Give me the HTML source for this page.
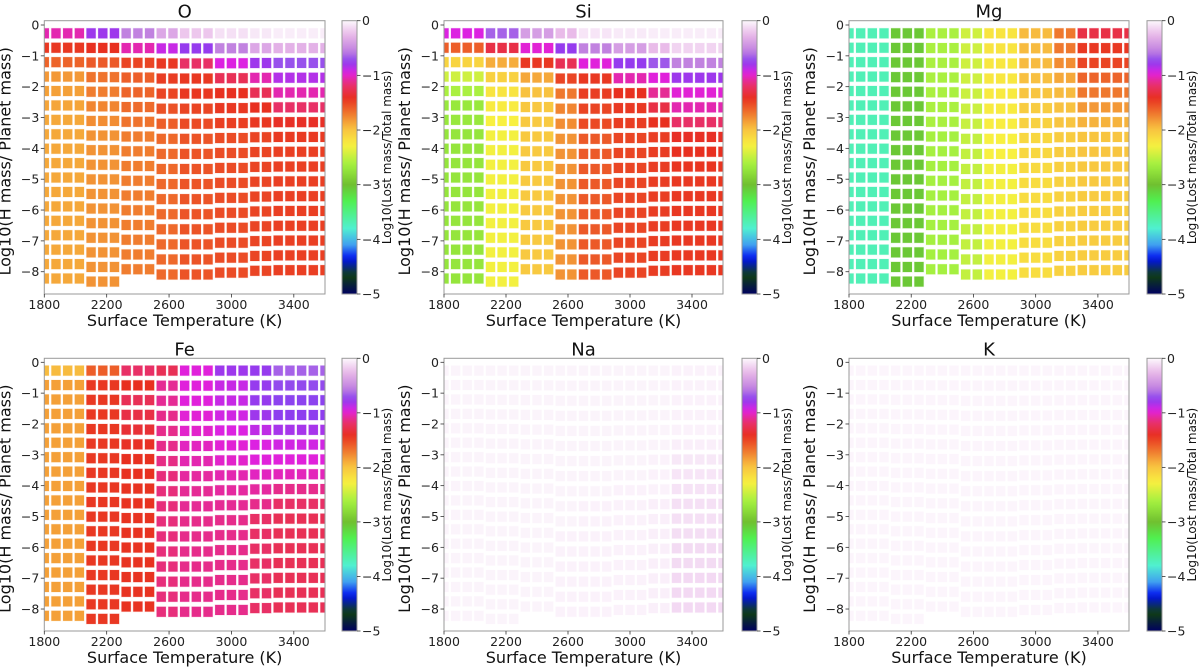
<!DOCTYPE html>
<html><head><meta charset="utf-8"><style>
html,body{margin:0;padding:0;background:#fff;}
svg{display:block;font-family:"DejaVu Sans","Liberation Sans",sans-serif;}
</style></head><body>
<svg id="fig" width="1200" height="669" viewBox="0 0 1200 669" xmlns="http://www.w3.org/2000/svg"></svg>
<script>
// ---- data ----
const temps = [1800,1875,1950,2025,2100,2175,2250,2325,2400,2475,2550,2625,2700,2775,2850,2925,3000,3075,3150,3225,3300,3375,3450,3525,3600];
const groupOfCol = [0,0,0,0,1,1,1,2,2,2,3,3,4,4,4,5,5,5,6,6,7,7,7,7,7];
const groupRows = [18,18,17,17,17,17,17,17];
const groupTop = [-0.27,-0.27,-0.27,-0.27,-0.27,-0.27,-0.27,-0.27];
const groupBottom = [-8.22,-8.32,-7.92,-8.09,-8.09,-8.03,-7.97,-7.95];
const xTicks = [1800,2200,2600,3000,3400];
const yTicks = [0,-1,-2,-3,-4,-5,-6,-7,-8];
const cbTicks = [0,-1,-2,-3,-4,-5];

const valuesO = [
[-1.05,-0.8,-0.55,-0.35,-0.2,-0.1,-0.07,-0.05],
[-1.45,-1.42,-1.05,-0.9,-0.78,-0.55,-0.35,-0.3],
[-1.62,-1.58,-1.5,-1.45,-1.2,-0.95,-0.8,-0.7],
[-1.82,-1.68,-1.6,-1.47,-1.45,-1.25,-1.05,-0.85],
[-1.85,-1.72,-1.62,-1.5,-1.45,-1.42,-1.25,-1.05],
[-1.87,-1.75,-1.65,-1.55,-1.5,-1.45,-1.42,-1.2],
[-1.88,-1.78,-1.68,-1.6,-1.52,-1.48,-1.45,-1.4],
[-1.88,-1.8,-1.72,-1.64,-1.56,-1.53,-1.5,-1.46],
[-1.88,-1.8,-1.72,-1.64,-1.56,-1.53,-1.5,-1.48],
[-1.88,-1.8,-1.72,-1.64,-1.56,-1.53,-1.5,-1.48],
[-1.88,-1.8,-1.72,-1.64,-1.56,-1.53,-1.5,-1.48],
[-1.88,-1.8,-1.72,-1.64,-1.56,-1.53,-1.5,-1.48],
[-1.88,-1.8,-1.72,-1.64,-1.56,-1.53,-1.5,-1.48],
[-1.88,-1.8,-1.72,-1.64,-1.56,-1.53,-1.5,-1.48],
[-1.88,-1.8,-1.72,-1.64,-1.56,-1.53,-1.5,-1.48],
[-1.88,-1.8,-1.72,-1.64,-1.56,-1.53,-1.5,-1.48],
[-1.88,-1.8,-1.72,-1.64,-1.56,-1.53,-1.5,-1.48],
[-1.88,-1.8,null,null,null,null,null,null]];
const valuesSi = [
[-0.95,-0.65,-0.4,-0.25,-0.08,-0.06,-0.05,-0.05],
[-1.6,-1.3,-0.98,-0.78,-0.55,-0.4,-0.25,-0.15],
[-2.1,-1.9,-1.45,-1.25,-0.97,-0.78,-0.68,-0.55],
[-2.45,-2.08,-1.88,-1.5,-1.45,-1.05,-0.97,-0.8],
[-2.6,-2.2,-1.98,-1.7,-1.47,-1.42,-1.1,-0.98],
[-2.7,-2.25,-2.02,-1.75,-1.5,-1.45,-1.3,-1.05],
[-2.7,-2.28,-2.03,-1.78,-1.52,-1.47,-1.42,-1.2],
[-2.72,-2.3,-2.03,-1.8,-1.58,-1.5,-1.47,-1.4],
[-2.72,-2.3,-2.03,-1.8,-1.58,-1.5,-1.47,-1.42],
[-2.72,-2.3,-2.03,-1.8,-1.58,-1.5,-1.47,-1.44],
[-2.72,-2.3,-2.03,-1.8,-1.58,-1.5,-1.47,-1.45],
[-2.72,-2.3,-2.03,-1.8,-1.58,-1.5,-1.47,-1.45],
[-2.72,-2.3,-2.03,-1.8,-1.58,-1.5,-1.47,-1.45],
[-2.72,-2.3,-2.03,-1.8,-1.58,-1.5,-1.47,-1.45],
[-2.72,-2.3,-2.03,-1.8,-1.58,-1.5,-1.47,-1.45],
[-2.72,-2.3,-2.03,-1.8,-1.58,-1.5,-1.47,-1.45],
[-2.72,-2.3,-2.03,-1.8,-1.58,-1.5,-1.47,-1.45],
[-2.72,-2.3,null,null,null,null,null,null]];
const valuesMg = [
[-3.7,-3.05,-2.6,-2.45,-2.2,-1.95,-1.7,-1.3],
[-3.7,-3.05,-2.6,-2.45,-2.2,-1.95,-1.7,-1.45],
[-3.7,-3.05,-2.6,-2.45,-2.22,-1.95,-1.78,-1.5],
[-3.7,-3.05,-2.6,-2.45,-2.22,-1.97,-1.88,-1.62],
[-3.7,-3.05,-2.6,-2.47,-2.24,-2.0,-1.95,-1.7],
[-3.7,-3.05,-2.6,-2.47,-2.25,-2.05,-1.98,-1.82],
[-3.7,-3.05,-2.6,-2.48,-2.26,-2.08,-2.0,-1.92],
[-3.7,-3.05,-2.62,-2.5,-2.28,-2.12,-2.05,-2.0],
[-3.7,-3.05,-2.62,-2.5,-2.28,-2.12,-2.05,-2.0],
[-3.7,-3.05,-2.62,-2.5,-2.3,-2.14,-2.07,-2.02],
[-3.7,-3.05,-2.62,-2.5,-2.3,-2.15,-2.08,-2.03],
[-3.7,-3.05,-2.62,-2.5,-2.3,-2.15,-2.08,-2.04],
[-3.7,-3.05,-2.62,-2.5,-2.3,-2.16,-2.08,-2.05],
[-3.7,-3.05,-2.62,-2.5,-2.3,-2.16,-2.08,-2.05],
[-3.7,-3.05,-2.62,-2.5,-2.3,-2.16,-2.08,-2.05],
[-3.7,-3.05,-2.62,-2.5,-2.3,-2.16,-2.08,-2.05],
[-3.7,-3.05,-2.62,-2.5,-2.3,-2.16,-2.08,-2.05],
[-3.7,-3.05,null,null,null,null,null,null]];
const valuesFe = [
[-1.95,-1.6,-1.2,-1.25,-0.97,-0.8,-0.78,-0.65],
[-1.85,-1.45,-1.42,-1.1,-0.97,-0.9,-0.78,-0.72],
[-1.85,-1.45,-1.25,-1.1,-0.97,-0.9,-0.78,-0.74],
[-1.85,-1.45,-1.3,-1.12,-0.98,-0.92,-0.8,-0.76],
[-1.85,-1.45,-1.35,-1.12,-1.0,-0.95,-0.88,-0.82],
[-1.85,-1.45,-1.4,-1.12,-1.02,-0.98,-0.95,-0.92],
[-1.85,-1.45,-1.42,-1.13,-1.05,-1.0,-0.97,-0.97],
[-1.85,-1.45,-1.42,-1.15,-1.08,-1.05,-1.02,-1.03],
[-1.85,-1.45,-1.43,-1.15,-1.1,-1.08,-1.08,-1.12],
[-1.85,-1.45,-1.43,-1.15,-1.1,-1.1,-1.12,-1.2],
[-1.85,-1.45,-1.43,-1.15,-1.12,-1.12,-1.2,-1.25],
[-1.85,-1.45,-1.43,-1.15,-1.12,-1.12,-1.2,-1.25],
[-1.85,-1.45,-1.43,-1.15,-1.12,-1.12,-1.2,-1.25],
[-1.85,-1.45,-1.43,-1.15,-1.12,-1.12,-1.2,-1.25],
[-1.85,-1.45,-1.43,-1.15,-1.12,-1.12,-1.2,-1.25],
[-1.85,-1.45,-1.43,-1.15,-1.12,-1.12,-1.2,-1.25],
[-1.85,-1.45,-1.43,-1.15,-1.12,-1.12,-1.2,-1.25],
[-1.85,-1.45,null,null,null,null,null,null]];
const valuesNa = [
[-0.02,-0.02,-0.02,-0.02,-0.02,-0.02,-0.02,-0.03],
[-0.02,-0.02,-0.02,-0.02,-0.02,-0.02,-0.02,-0.03],
[-0.02,-0.02,-0.02,-0.02,-0.02,-0.02,-0.02,-0.03],
[-0.02,-0.02,-0.02,-0.02,-0.02,-0.02,-0.02,-0.03],
[-0.02,-0.02,-0.02,-0.02,-0.02,-0.02,-0.02,-0.03],
[-0.02,-0.02,-0.02,-0.02,-0.02,-0.02,-0.02,-0.04],
[-0.02,-0.02,-0.02,-0.02,-0.02,-0.02,-0.03,-0.07],
[-0.02,-0.02,-0.02,-0.02,-0.02,-0.02,-0.03,-0.08],
[-0.02,-0.02,-0.02,-0.02,-0.02,-0.03,-0.03,-0.09],
[-0.02,-0.02,-0.02,-0.02,-0.03,-0.03,-0.04,-0.1],
[-0.02,-0.02,-0.02,-0.02,-0.03,-0.03,-0.04,-0.1],
[-0.02,-0.02,-0.02,-0.03,-0.03,-0.03,-0.04,-0.11],
[-0.02,-0.02,-0.02,-0.03,-0.03,-0.03,-0.04,-0.12],
[-0.02,-0.02,-0.02,-0.03,-0.03,-0.03,-0.04,-0.12],
[-0.02,-0.02,-0.02,-0.03,-0.03,-0.03,-0.04,-0.13],
[-0.02,-0.02,-0.02,-0.03,-0.03,-0.03,-0.04,-0.13],
[-0.02,-0.02,-0.02,-0.03,-0.03,-0.03,-0.04,-0.13],
[-0.02,-0.02,null,null,null,null,null,null]];
const valuesK = [
[-0.015,-0.015,-0.015,-0.015,-0.015,-0.015,-0.015,-0.015],
[-0.015,-0.015,-0.015,-0.015,-0.015,-0.015,-0.015,-0.015],
[-0.015,-0.015,-0.015,-0.015,-0.015,-0.015,-0.015,-0.015],
[-0.015,-0.015,-0.015,-0.015,-0.015,-0.015,-0.015,-0.015],
[-0.015,-0.015,-0.015,-0.015,-0.015,-0.015,-0.015,-0.015],
[-0.015,-0.015,-0.015,-0.015,-0.015,-0.015,-0.015,-0.015],
[-0.015,-0.015,-0.015,-0.015,-0.015,-0.015,-0.015,-0.015],
[-0.015,-0.015,-0.015,-0.015,-0.015,-0.015,-0.015,-0.015],
[-0.015,-0.015,-0.015,-0.015,-0.015,-0.015,-0.015,-0.015],
[-0.015,-0.015,-0.015,-0.015,-0.015,-0.015,-0.015,-0.015],
[-0.015,-0.015,-0.015,-0.015,-0.015,-0.015,-0.015,-0.015],
[-0.015,-0.015,-0.015,-0.015,-0.015,-0.015,-0.015,-0.015],
[-0.015,-0.015,-0.015,-0.015,-0.015,-0.015,-0.015,-0.015],
[-0.015,-0.015,-0.015,-0.015,-0.015,-0.015,-0.015,-0.015],
[-0.015,-0.015,-0.015,-0.015,-0.015,-0.015,-0.015,-0.015],
[-0.015,-0.015,-0.015,-0.015,-0.015,-0.015,-0.015,-0.015],
[-0.015,-0.015,-0.015,-0.015,-0.015,-0.015,-0.015,-0.015],
[-0.015,-0.015,null,null,null,null,null,null]];

// ---- colormap (value -> color) ----
const cmap = [[0,'#fdf9fd'],[-0.26,'#e8b8e8'],[-0.56,'#c080e0'],[-0.75,'#8a40f0'],[-0.96,'#e020e0'],[-1.17,'#e83070'],[-1.42,'#e83020'],[-1.73,'#f08030'],[-1.97,'#f8c040'],[-2.28,'#f8f040'],[-2.64,'#a0f040'],[-3.0,'#70c030'],[-3.3,'#50f050'],[-3.8,'#50f0d0'],[-4.1,'#40a0f0'],[-4.35,'#0010f0'],[-4.66,'#104010'],[-5,'#000060']];
function hex2rgb(h){return [1,3,5].map(i=>parseInt(h.substr(i,2),16));}
function colorOf(v){
  if(v>=cmap[0][0]) return cmap[0][1];
  for(let i=1;i<cmap.length;i++){
    if(v>=cmap[i][0]){const a=cmap[i-1],b=cmap[i];const t=(a[0]-v)/(a[0]-b[0]);
      const ca=hex2rgb(a[1]),cb=hex2rgb(b[1]);
      return 'rgb('+ca.map((c,k)=>Math.round(c+(cb[k]-c)*t)).join(',')+')';}
  }
  return cmap[cmap.length-1][1];
}

const NS='http://www.w3.org/2000/svg';
const svg=document.getElementById('fig');
function mk(tag,attrs,parent){const e=document.createElementNS(NS,tag);for(const k in attrs)e.setAttribute(k,attrs[k]);(parent||svg).appendChild(e);return e;}

const defs=mk('defs',{});
const grad=mk('linearGradient',{id:'cbgrad',x1:0,y1:0,x2:0,y2:1},defs);
for(let i=0;i<=50;i++){const v=-5*i/50;mk('stop',{offset:(i/50),'stop-color':colorOf(v)},grad);}

const panels=[
 {name:'O',vals:valuesO,x0:44.3,x1:325,y0:20.7,y1:294,zero:25,cbx:342},
 {name:'Si',vals:valuesSi,x0:444,x1:723,y0:20.7,y1:294,zero:25,cbx:742},
 {name:'Mg',vals:valuesMg,x0:849,x1:1129,y0:20.7,y1:294,zero:25,cbx:1147},
 {name:'Fe',vals:valuesFe,x0:44.3,x1:325,y0:358.3,y1:631,zero:362.3,cbx:342},
 {name:'Na',vals:valuesNa,x0:444,x1:723,y0:358.3,y1:631,zero:362.3,cbx:742},
 {name:'K',vals:valuesK,x0:849,x1:1129,y0:358.3,y1:631,zero:362.3,cbx:1147}
];
const unit=30.84, xmin=1800, xmax=3600;

panels.forEach((p,pi)=>{
  const g=mk('g',{});
  
  
  const xs=t=>p.x0+(t-xmin)/(xmax-xmin)*(p.x1-p.x0);
  const ys=v=>p.zero-v*unit;
  const cid='clip'+pi;
  const cp=mk('clipPath',{id:cid},defs);
  mk('rect',{x:p.x0,y:p.y0,width:p.x1-p.x0,height:p.y1-p.y0},cp);
  const cells=mk('g',{'clip-path':'url(#'+cid+')'},g);
  
  
  temps.forEach((t,ci)=>{
    const gi=groupOfCol[ci], n=groupRows[gi];
    for(let r=0;r<n;r++){
      const v=p.vals[r][gi]; if(v===null||v===undefined) continue;
      const hv=groupTop[gi]+r*(groupBottom[gi]-groupTop[gi])/(n-1);
      const cx=xs(t), cy=ys(hv);
      const rc=mk('rect',{x:cx-5.2,y:cy-5.6,width:10.4,height:11.2,fill:colorOf(v),stroke:'#fff','stroke-width':1.1,'stroke-opacity':0.85},cells);
      
      
    }
  });
  const fr=mk('rect',{x:p.x0,y:p.y0,width:p.x1-p.x0,height:p.y1-p.y0,fill:'none',stroke:'#999','stroke-width':1},g);
  
  
  xTicks.forEach(t=>{
    const x=xs(t);
    mk('line',{x1:x,y1:p.y1,x2:x,y2:p.y1+3.5,stroke:'#333','stroke-width':0.8},g);
    const tx=mk('text',{x:x,y:p.y1+15,'text-anchor':'middle','font-size':12.5,fill:'#222'},g);
    tx.textContent=t;
    
    
  });
  yTicks.forEach(v=>{
    const y=ys(v);
    mk('line',{x1:p.x0-3.5,y1:y,x2:p.x0,y2:y,stroke:'#333','stroke-width':0.8},g);
    const tx=mk('text',{x:p.x0-5,y:y+4.5,'text-anchor':'end','font-size':12.5,fill:'#222'},g);
    tx.textContent=(v<0?'\u2212'+(-v):v);
    
    
  });
  const title=mk('text',{x:(p.x0+p.x1)/2,y:p.y0-3,'text-anchor':'middle','font-size':18,fill:'#111'},g);
  title.textContent=p.name;
  
  
  const xl=mk('text',{x:(p.x0+p.x1)/2,y:p.y1+32,'text-anchor':'middle','font-size':16,fill:'#111'},g);
  xl.textContent='Surface Temperature (K)';
  
  
  const ylx=p.x0-34, ylc=(p.y0+p.y1)/2+4;
  const yl=mk('text',{x:ylx,y:ylc,'text-anchor':'middle','font-size':16,fill:'#111',transform:'rotate(-90 '+ylx+' '+ylc+')'},g);
  yl.textContent='Log10(H mass/ Planet mass)';
  
  
  const cbw=15, cbt=p.y0, cbb=p.y1;
  const cb=mk('rect',{x:p.cbx,y:cbt,width:cbw,height:cbb-cbt,fill:'url(#cbgrad)',stroke:'#999','stroke-width':1},g);
  
  
  cbTicks.forEach(v=>{
    const y=cbt+(-v/5)*(cbb-cbt);
    mk('line',{x1:p.cbx+cbw,y1:y,x2:p.cbx+cbw+3.5,y2:y,stroke:'#333','stroke-width':0.8},g);
    const tx=mk('text',{x:p.cbx+cbw+5,y:y+4.5,'font-size':12.5,fill:'#222'},g);
    tx.textContent=(v<0?'\u2212'+(-v):v);
    
    
  });
  const clx=p.cbx+cbw+34, cly=(cbt+cbb)/2;
  const cl=mk('text',{x:clx,y:cly,'text-anchor':'middle','font-size':12,fill:'#111',transform:'rotate(-90 '+clx+' '+cly+')'},g);
  cl.textContent='Log10(Lost mass/Total mass)';
  
  
});
</script>
</body></html>
